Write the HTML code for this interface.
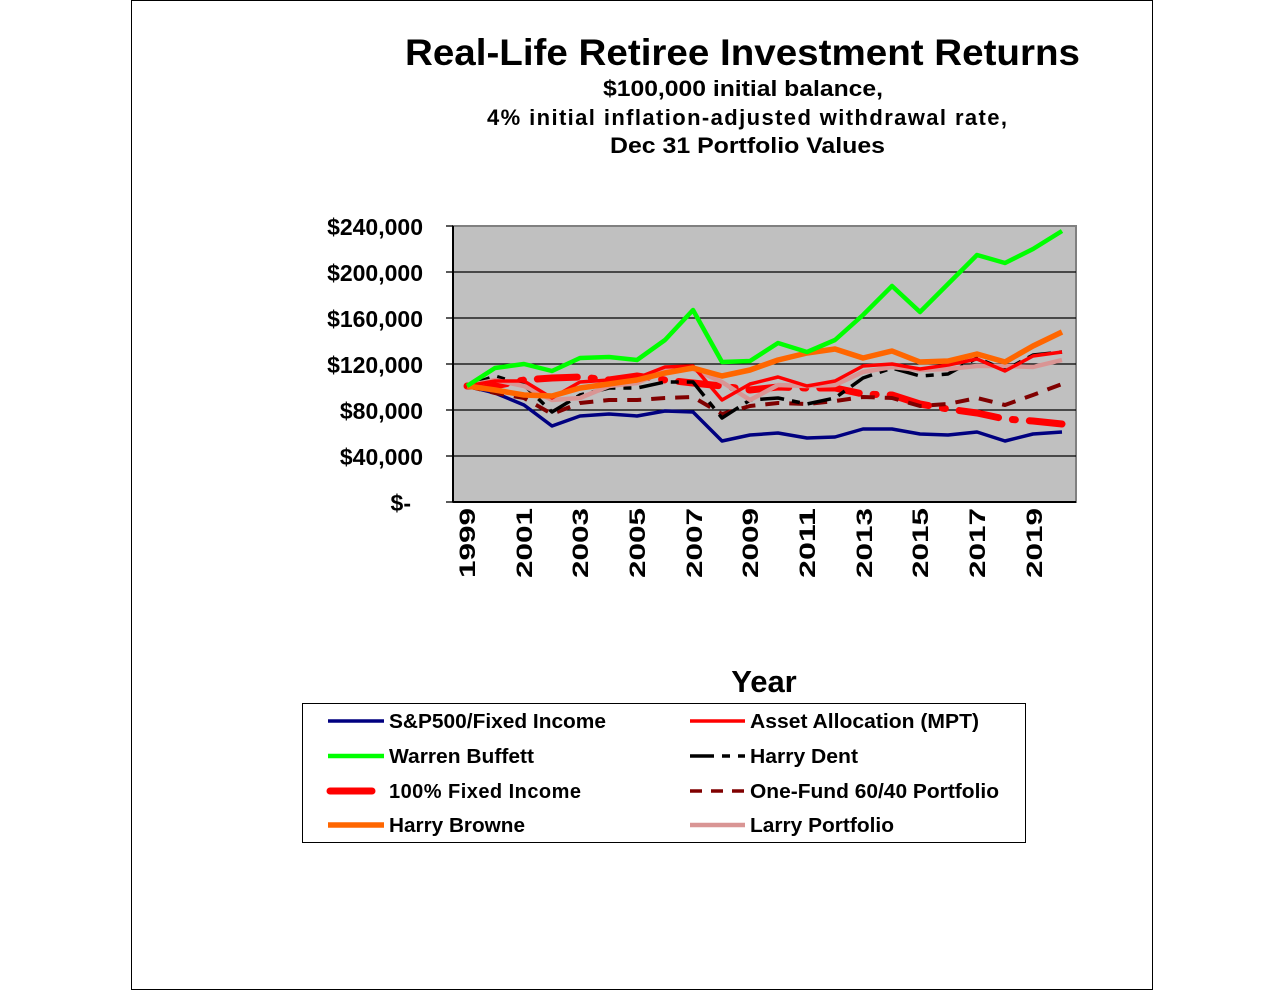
<!DOCTYPE html>
<html><head><meta charset="utf-8"><style>
html,body{margin:0;padding:0;background:#fff;}
svg text{font-family:"Liberation Sans",Arial,sans-serif;font-weight:bold;fill:#000;}
</style></head><body>
<svg width="1284" height="990" viewBox="0 0 1284 990" xmlns="http://www.w3.org/2000/svg">
<rect x="131.5" y="0.5" width="1021" height="989" fill="#fff" stroke="#000" stroke-width="1"/>
<text x="405" y="65" font-size="37" textLength="675" lengthAdjust="spacingAndGlyphs">Real-Life Retiree Investment Returns</text>
<text x="603" y="96" font-size="22" textLength="280" lengthAdjust="spacingAndGlyphs">$100,000 initial balance,</text>
<text x="487" y="125" font-size="22" textLength="520" lengthAdjust="spacing">4%  initial inflation-adjusted  withdrawal rate,</text>
<text x="610" y="153" font-size="22" textLength="275" lengthAdjust="spacingAndGlyphs">Dec 31 Portfolio Values</text>
<rect x="453" y="226" width="623" height="276" fill="#c0c0c0" stroke="#808080" stroke-width="2"/>
<g stroke="#000" stroke-width="1.3">
<line x1="453" y1="272" x2="1076" y2="272"/><line x1="453" y1="318" x2="1076" y2="318"/>
<line x1="453" y1="364" x2="1076" y2="364"/><line x1="453" y1="410" x2="1076" y2="410"/>
<line x1="453" y1="456" x2="1076" y2="456"/>
<line x1="453" y1="226" x2="453" y2="502" stroke-width="2"/>
<line x1="453" y1="502" x2="1076" y2="502" stroke-width="2"/>
<line x1="446" y1="226" x2="453" y2="226"/><line x1="446" y1="272" x2="453" y2="272"/><line x1="446" y1="318" x2="453" y2="318"/><line x1="446" y1="364" x2="453" y2="364"/><line x1="446" y1="410" x2="453" y2="410"/><line x1="446" y1="456" x2="453" y2="456"/><line x1="446" y1="502" x2="453" y2="502"/>
</g>
<g font-size="23" text-anchor="end">
<text x="423" y="235">$240,000</text><text x="423" y="281">$200,000</text><text x="423" y="327">$160,000</text>
<text x="423" y="373">$120,000</text><text x="423" y="419">$80,000</text><text x="423" y="465">$40,000</text>
<text x="411" y="511">$-</text>
</g>
<g font-size="22">
<text transform="translate(475,578) rotate(-90)" textLength="70" lengthAdjust="spacingAndGlyphs">1999</text>
<text transform="translate(532,578) rotate(-90)" textLength="70" lengthAdjust="spacingAndGlyphs">2001</text>
<text transform="translate(588,578) rotate(-90)" textLength="70" lengthAdjust="spacingAndGlyphs">2003</text>
<text transform="translate(645,578) rotate(-90)" textLength="70" lengthAdjust="spacingAndGlyphs">2005</text>
<text transform="translate(702,578) rotate(-90)" textLength="70" lengthAdjust="spacingAndGlyphs">2007</text>
<text transform="translate(758,578) rotate(-90)" textLength="70" lengthAdjust="spacingAndGlyphs">2009</text>
<text transform="translate(815,578) rotate(-90)" textLength="70" lengthAdjust="spacingAndGlyphs">2011</text>
<text transform="translate(872,578) rotate(-90)" textLength="70" lengthAdjust="spacingAndGlyphs">2013</text>
<text transform="translate(928,578) rotate(-90)" textLength="70" lengthAdjust="spacingAndGlyphs">2015</text>
<text transform="translate(985,578) rotate(-90)" textLength="70" lengthAdjust="spacingAndGlyphs">2017</text>
<text transform="translate(1042,578) rotate(-90)" textLength="70" lengthAdjust="spacingAndGlyphs">2019</text>
</g>
<g fill="none" stroke-linejoin="round">
<polyline stroke="#000080" stroke-width="3.5" points="467,386 495,393 524,405 552,426 580,416 609,414 637,416 665,411 693,412 722,441 750,435 778,433 807,438 835,437 863,429 892,429 920,434 948,435 977,432 1005,441 1033,434 1062,432"/>
<polyline stroke="#ff0000" stroke-width="7" stroke-dasharray="40,14,3,14" stroke-linecap="round" points="467,386 495,386 524,380 552,378 580,377 609,380 637,376 665,380 693,383 722,386 750,390 778,387 807,388 835,388 863,394 892,395 920,404 948,409 977,413 1005,419 1033,421 1062,424"/>
<polyline stroke="#800000" stroke-width="4" stroke-dasharray="14,10" points="467,386 495,393 524,398 552,414 580,403 609,400 637,400 665,398 693,397 722,414 750,406 778,403 807,404 835,401 863,397 892,398 920,406 948,404 977,398 1005,405 1033,395 1062,384"/>
<polyline stroke="#000" stroke-width="3.5" stroke-dasharray="24,8,8,8" points="467,386 495,376 524,385 552,412 580,395 609,388 637,388 665,382 693,382 722,418 750,400 778,398 807,404 835,398 863,378 892,368 920,376 948,374 977,358 1005,370 1033,355 1062,352"/>
<polyline stroke="#d99594" stroke-width="4.5" points="467,386 495,380 524,386 552,400 580,398 609,386 637,383 665,371 693,369 722,382 750,400 778,385 807,386 835,385 863,372 892,367 920,370 948,369 977,366 1005,366 1033,367 1062,360"/>
<polyline stroke="#ff0000" stroke-width="3.5" points="467,386 495,381 524,381 552,398 580,382 609,380 637,378 665,367 693,366 722,400 750,384 778,377 807,386 835,381 863,366 892,364 920,369 948,365 977,359 1005,371 1033,356 1062,352"/>
<polyline stroke="#ff6600" stroke-width="5.5" points="467,386 495,390 524,395 552,396 580,388 609,384 637,380 665,373 693,368 722,376 750,370 778,360 807,353 835,349 863,358 892,351 920,362 948,361 977,354 1005,362 1033,346 1062,332"/>
<polyline stroke="#00ff00" stroke-width="4.5" points="467,386 495,368 524,364 552,371 580,358 609,357 637,360 665,340 693,310 722,362 750,361 778,343 807,352 835,340 863,315 892,286 920,312 948,284 977,255 1005,263 1033,249 1062,231"/>
</g>
<text x="764" y="692" font-size="31" text-anchor="middle">Year</text>
<rect x="302.5" y="703.5" width="723" height="139" fill="#fff" stroke="#000" stroke-width="1"/>
<g fill="none">
<line x1="328" y1="721" x2="384" y2="721" stroke="#000080" stroke-width="3.5"/>
<line x1="690" y1="721" x2="745" y2="721" stroke="#ff0000" stroke-width="3.5"/>
<line x1="328" y1="756" x2="384" y2="756" stroke="#00ff00" stroke-width="4.5"/>
<line x1="690" y1="756" x2="745" y2="756" stroke="#000" stroke-width="3.5" stroke-dasharray="24,8,8,8"/>
<line x1="330" y1="791" x2="372" y2="791" stroke="#ff0000" stroke-width="7" stroke-linecap="round"/>
<line x1="690" y1="791" x2="745" y2="791" stroke="#800000" stroke-width="3.5" stroke-dasharray="12,9"/>
<line x1="328" y1="825" x2="384" y2="825" stroke="#ff6600" stroke-width="5.5"/>
<line x1="690" y1="825" x2="745" y2="825" stroke="#d99594" stroke-width="4.5"/>
</g>
<g font-size="20">
<text x="389" y="728" textLength="217" lengthAdjust="spacingAndGlyphs">S&amp;P500/Fixed Income</text>
<text x="750" y="728" textLength="229" lengthAdjust="spacingAndGlyphs">Asset Allocation (MPT)</text>
<text x="389" y="763" textLength="145" lengthAdjust="spacingAndGlyphs">Warren Buffett</text>
<text x="750" y="763" textLength="108" lengthAdjust="spacingAndGlyphs">Harry Dent</text>
<text x="389" y="798" textLength="192" lengthAdjust="spacing">100%  Fixed Income</text>
<text x="750" y="798" textLength="249" lengthAdjust="spacingAndGlyphs">One-Fund 60/40 Portfolio</text>
<text x="389" y="832" textLength="136" lengthAdjust="spacingAndGlyphs">Harry Browne</text>
<text x="750" y="832" textLength="144" lengthAdjust="spacingAndGlyphs">Larry Portfolio</text>
</g>
</svg>
</body></html>
